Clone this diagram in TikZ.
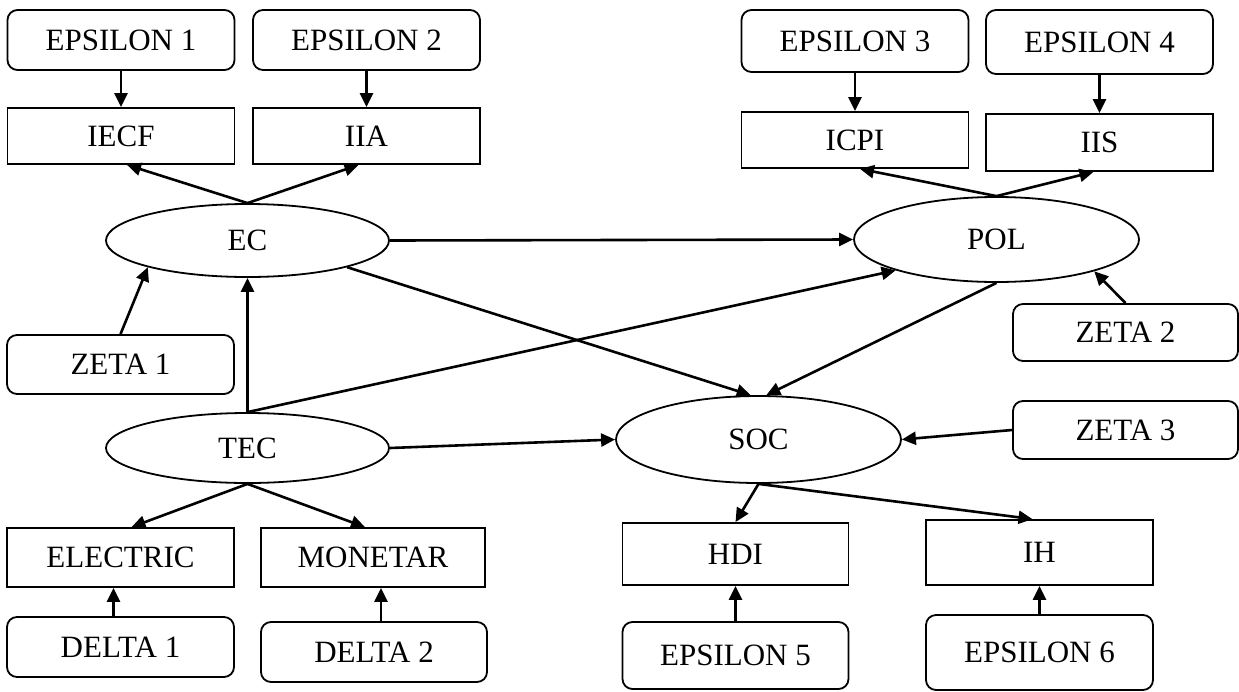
\documentclass[tikz,border=0pt]{standalone}
\usepackage{fontspec}
\setmainfont{Liberation Serif}
\usetikzlibrary{shapes.geometric,arrows.meta}
\newcommand{\lbl}{\fontsize{31}{36}\selectfont}
\tikzstyle{errbox} = [draw=black, line width=1.8pt, rounded corners=10pt, minimum width=227pt, minimum height=60pt, inner sep=0pt, font=\lbl]
\tikzstyle{indbox} = [draw=black, line width=1.8pt, rectangle, minimum width=227pt, minimum height=56pt, inner sep=0pt, font=\lbl]
\tikzstyle{latent} = [draw=black, line width=1.8pt, ellipse, minimum width=283pt, minimum height=73pt, inner sep=0pt, font=\lbl]
\tikzstyle{link} = [-{Triangle[length=14pt,width=13pt]}, line width=2.6pt]

\begin{document}
\begin{tikzpicture}[x=1pt, y=-1pt]%
	\useasboundingbox (0,0) rectangle (1239,691);%
	% latent constructs
	\node [latent] (ec) at (247.5,240.5) {EC};
	\node [latent, minimum width=285pt, minimum height=85pt] (pol) at (996.5,239.5) {POL};
	\node [latent, minimum height=70pt] (tec) at (247.5,448) {TEC};
	\node [latent, minimum width=285pt, minimum height=87pt] (soc) at (758.5,439.5) {SOC};
	% indicators
	\node [indbox] (iecf) at (121,136) {IECF};
	\node [indbox] (iia) at (366.5,136) {IIA};
	\node [indbox] (icpi) at (855,140) {ICPI};
	\node [indbox, minimum height=57pt] (iis) at (1099.5,142.5) {IIS};
	\node [indbox, minimum height=59pt] (electric) at (120.5,557.5) {ELECTRIC};
	\node [indbox, minimum width=224pt, minimum height=59pt] (monetar) at (373,557.5) {MONETAR};
	\node [indbox, minimum width=226pt, minimum height=62pt] (hdi) at (735.5,554) {HDI};
	\node [indbox, minimum height=65pt] (ih) at (1039.5,552.5) {IH};
	% error terms
	\node [errbox] (eps1) at (121,40) {EPSILON 1};
	\node [errbox] (eps2) at (366.5,40) {EPSILON 2};
	\node [errbox, minimum height=62pt] (eps3) at (855,41) {EPSILON 3};
	\node [errbox, minimum height=64pt] (eps4) at (1099.5,42) {EPSILON 4};
	\node [errbox, minimum height=59pt] (zeta1) at (120.5,364.5) {ZETA 1};
	\node [errbox, minimum width=225pt, minimum height=57pt] (zeta2) at (1125.5,332.5) {ZETA 2};
	\node [errbox, minimum width=225pt, minimum height=58pt] (zeta3) at (1125.5,430) {ZETA 3};
	\node [errbox] (delta1) at (120.5,647) {DELTA 1};
	\node [errbox, minimum width=226pt] (delta2) at (374,652) {DELTA 2};
	\node [errbox, minimum width=226pt, minimum height=67pt] (eps5) at (735.5,655.5) {EPSILON 5};
	\node [errbox, minimum height=75pt] (eps6) at (1039.5,652.5) {EPSILON 6};
	% measurement arrows
	\draw [link] (eps1) -- (iecf);
	\draw [link] (eps2) -- (iia);
	\draw [link] (eps3) -- (icpi);
	\draw [link] (eps4) -- (iis);
	\draw [link] (eps5) -- (hdi);
	\draw [link] (eps6) -- (ih);
	\draw [link] ([xshift=-7pt]delta1.north) -- ([xshift=-7pt]electric.south);
	\draw [link] ([xshift=7pt]delta2.north) -- ([xshift=8pt]monetar.south);
	\draw [link] (ec.north) -- ([xshift=6pt]iecf.south);
	\draw [link] (ec.north) -- ([xshift=-8pt]iia.south);
	\draw [link] (pol.north) -- ([xshift=5pt]icpi.south);
	\draw [link] (pol.north) -- ([xshift=-6pt]iis.south);
	\draw [link] (tec.south) -- ([xshift=11pt]electric.north);
	\draw [link] (tec.south) -- ([xshift=-8pt]monetar.north);
	\draw [link] (soc.south) -- (hdi.north);
	\draw [link] (soc.south) -- ([xshift=-7pt]ih.north);
	% structural arrows
	\draw [link] (ec.east) -- (pol.west);
	\draw [link] (ec.-15) -- (soc.100);
	\draw [link] (pol.south) -- (soc.80);
	\draw [link] (tec.north) -- (ec.south);
	\draw [link] (tec.north) -- (pol.197);
	\draw [link] (tec.east) -- (soc.west);
	\draw [link] (zeta1.north) -- (ec.195);
	\draw [link] (zeta2.north) -- (pol.-18);
	\draw [link] (zeta3.west) -- (soc.east);
\end{tikzpicture}
\end{document}
